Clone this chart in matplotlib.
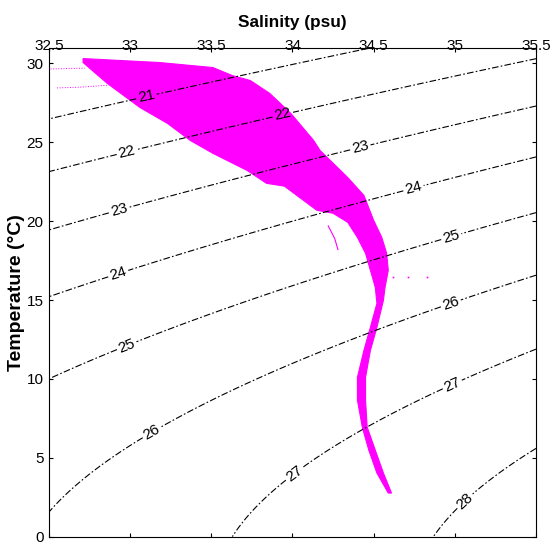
"""
Diagrama T-S con isopicnas sigma-t
"""

import numpy as np
import matplotlib
matplotlib.use('Agg')
import matplotlib.pyplot as plt

plt.rcParams['font.family'] = ['Liberation Sans', 'DejaVu Sans']

# Envolvente superior/derecha de la nube de perfiles (S, T)
upper_S = [32.71, 33.18, 33.51, 33.63, 33.74, 33.86, 33.99, 34.13, 34.17, 34.34,
           34.44, 34.50, 34.55, 34.58, 34.59, 34.57, 34.56, 34.52, 34.48, 34.45,
           34.45, 34.46, 34.51, 34.56, 34.61]
upper_T = [30.31, 30.06, 29.74, 29.23, 28.92, 28.10, 26.83, 25.12, 24.48, 22.77,
           21.63, 20.05, 18.97, 17.96, 16.88, 15.80, 14.98, 13.27, 11.81, 10.10,
           8.65, 6.94, 5.48, 4.03, 2.76]

# Envolvente inferior/izquierda
lower_S = [32.71, 32.86, 32.96, 33.06, 33.23, 33.37, 33.51, 33.72, 33.84, 33.95,
           34.15, 34.25, 34.34, 34.40, 34.45, 34.48, 34.51, 34.52, 34.48, 34.44,
           34.40, 34.40, 34.43, 34.47, 34.52, 34.59]
lower_T = [30.06, 28.73, 27.97, 27.21, 26.20, 25.12, 24.30, 23.22, 22.40, 22.22,
           20.69, 20.50, 19.93, 18.97, 17.96, 16.88, 15.80, 14.79, 13.27, 11.81,
           10.10, 8.65, 6.94, 5.48, 4.03, 2.76]

# Trazos sueltos hacia salinidades bajas
streak1_S = [32.51, 32.62, 32.72]
streak1_T = [29.65, 29.68, 29.70]
streak2_S = [32.55, 32.70, 32.86]
streak2_T = [28.45, 28.50, 28.62]
spur_S = [34.22, 34.26, 34.28]
spur_T = [19.70, 18.90, 18.20]
dots_S = [34.62, 34.71, 34.83]
dots_T = [16.45, 16.45, 16.45]

sigma_levels = [21, 22, 23, 24, 25, 26, 27, 28]
label_spots = [(33.11, 27.46), (32.99, 23.98), (33.95, 26.32), (32.94, 20.37),
               (34.43, 24.17), (32.94, 16.25), (34.76, 21.51), (32.99, 11.82),
               (34.99, 18.59), (33.15, 6.31), (34.99, 14.35), (34.03, 3.71),
               (35.00, 9.29), (35.09, 1.94)]

sal_ticks = [32.5, 33, 33.5, 34, 34.5, 35, 35.5]
sal_labels = ['32.5', '33', '33.5', '34', '34.5', '35', '35.5']
temp_ticks = [0, 5, 10, 15, 20, 25, 30]


def sigma_t(S, T):
    """Densidad potencial sigma-t (UNESCO 1980, p = 0)"""
    rho_w = (999.842594 + 6.793952e-2 * T - 9.095290e-3 * T**2 + 1.001685e-4 * T**3
             - 1.120083e-6 * T**4 + 6.536332e-9 * T**5)
    A = 8.24493e-1 - 4.0899e-3 * T + 7.6438e-5 * T**2 - 8.2467e-7 * T**3 + 5.3875e-9 * T**4
    B = -5.72466e-3 + 1.0227e-4 * T - 1.6546e-6 * T**2
    C = 4.8314e-4
    return rho_w + A * S + B * S**1.5 + C * S**2 - 1000.0


fig = plt.figure(figsize=(5.51, 5.45), dpi=100)
ax = fig.add_axes([0.0889, 0.0154, 0.8839, 0.8971])

magenta = '#FF00FF'
poly_S = upper_S + lower_S[::-1]
poly_T = upper_T + lower_T[::-1]
ax.fill(poly_S, poly_T, color=magenta, lw=0.8, zorder=2)
ax.plot(streak1_S, streak1_T, color=magenta, lw=0.7, ls=':', zorder=2)
ax.plot(streak2_S, streak2_T, color=magenta, lw=0.7, ls=':', zorder=2)
ax.plot(spur_S, spur_T, color=magenta, lw=0.8, zorder=2)
ax.plot(dots_S, dots_T, 's', color=magenta, ms=1.2, mew=0, zorder=2)

# Isopicnas
sg, tg = np.meshgrid(np.linspace(32.5, 35.5, 200), np.linspace(0, 31, 200))
cs = ax.contour(sg, tg, sigma_t(sg, tg), levels=sigma_levels, colors='k',
                linewidths=0.8, zorder=3)
cs.set_linestyle((0, (6, 2, 1.5, 2)))
ax.clabel(cs, fmt='%d', fontsize=11, inline=True, inline_spacing=2,
          manual=label_spots)

ax.set_xlim(32.5, 35.5)
ax.set_ylim(0, 31)
ax.set_xticks(sal_ticks)
ax.set_xticklabels(sal_labels)
ax.set_yticks(temp_ticks)
ax.xaxis.set_label_position('top')
ax.tick_params(axis='x', which='both', direction='in', top=True, bottom=True,
               labeltop=True, labelbottom=False, length=3, labelsize=11, pad=-3.5)
ax.tick_params(axis='y', direction='in', left=True, right=True, length=3,
               labelsize=11, pad=4)
for sp in ax.spines.values():
    sp.set_linewidth(0.8)

ax.set_xlabel('Salinity (psu)', fontsize=12.4, fontweight='bold', labelpad=8)
ax.set_ylabel('Temperature (°C)', fontsize=14, fontweight='bold', labelpad=1)

fig.savefig('out.png', dpi=100)
